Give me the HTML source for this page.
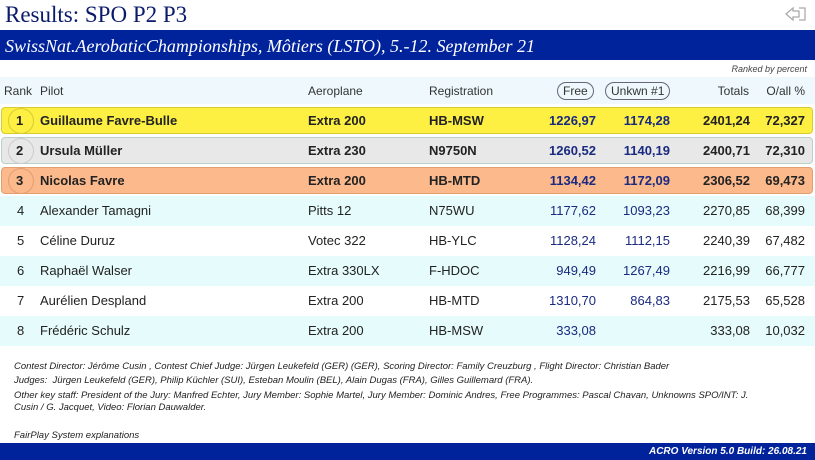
<!DOCTYPE html>
<html><head><meta charset="utf-8"><style>
*{margin:0;padding:0;box-sizing:border-box}
body{width:815px;height:460px;background:#fff;font-family:"Liberation Sans",Arial,sans-serif;position:relative;overflow:hidden;color:#222}
.a{position:absolute;white-space:nowrap}
.title{left:5px;top:2px;font-family:"Liberation Serif",serif;font-size:23px;color:#0a1a6a}
.bar{left:0;top:30px;width:815px;height:30px;background:#00239c}
.sub{left:5px;top:36px;font-family:"Liberation Serif",serif;font-style:italic;font-size:18px;color:#fff}
.row{position:absolute;left:0;width:815px;height:30px;font-size:13px}
.row span{position:absolute;top:7px;white-space:nowrap}
.n{color:#1a2a80}
.hl{position:absolute;left:1px;width:812px;height:27px;border-radius:4px}
.circ{position:absolute;left:8px;width:26px;height:26px;border-radius:50%}
.b span{font-weight:bold}
.foot{left:14px;font-size:9.5px;font-style:italic;color:#222}
.pill{border:1px solid #667;border-radius:9px;padding:1px 5px;}
</style></head><body>
<div class="a title">Results: SPO P2 P3</div>
<svg class="a" style="left:785px;top:6px" width="22" height="16"><path d="M1 8 L8 2 L8 5 L14 5 L14 11 L8 11 L8 14 Z M14 2 L20 2 L20 14 L14 14" fill="none" stroke="#aaa" stroke-width="1.3"/></svg>
<div class="a bar"></div>
<div class="a sub">SwissNat.AerobaticChampionships, Môtiers (LSTO), 5.-12. September 21</div>
<div class="a" style="right:8px;top:64px;font-size:9px;font-style:italic;color:#444">Ranked by percent</div>
<div class="row" style="top:77px;background:#eef8fd;height:27px;font-size:12px;color:#333">
<span style="left:4px">Rank</span><span style="left:40px">Pilot</span><span style="left:308px">Aeroplane</span><span style="left:429px">Registration</span>
<span style="left:557px;top:5px" class="pill">Free</span><span style="left:605px;top:5px" class="pill">Unkwn #1</span>
<span style="right:66px">Totals</span><span style="right:10px">O/all %</span></div>

<div class="hl" style="top:107px;background:#fdf043;border:1px solid #d8cc30"></div>
<div class="circ" style="top:108px;background:#fdf043;border:1px solid #d8cc30"></div>
<div class="row b" style="top:106px"><span style="left:16px">1</span><span style="left:40px">Guillaume Favre-Bulle</span><span style="left:308px">Extra 200</span><span style="left:429px">HB-MSW</span><span class="n" style="right:219px">1226,97</span><span class="n" style="right:145px">1174,28</span><span style="right:65px">2401,24</span><span style="right:10px">72,327</span></div>

<div class="hl" style="top:137px;background:#e8e8e8;border:1px solid #b8d0c8"></div>
<div class="circ" style="top:138px;background:#e8e8e8;border:1px solid #ccc"></div>
<div class="row b" style="top:136px"><span style="left:16px">2</span><span style="left:40px">Ursula Müller</span><span style="left:308px">Extra 230</span><span style="left:429px">N9750N</span><span class="n" style="right:219px">1260,52</span><span class="n" style="right:145px">1140,19</span><span style="right:65px">2400,71</span><span style="right:10px">72,310</span></div>

<div class="hl" style="top:167px;background:#fbb98c;border:1px solid #e0a070"></div>
<div class="circ" style="top:168px;background:#fbb98c;border:1px solid #e0a070"></div>
<div class="row b" style="top:166px"><span style="left:16px">3</span><span style="left:40px">Nicolas Favre</span><span style="left:308px">Extra 200</span><span style="left:429px">HB-MTD</span><span class="n" style="right:219px">1134,42</span><span class="n" style="right:145px">1172,09</span><span style="right:65px">2306,52</span><span style="right:10px">69,473</span></div>

<div class="row" style="top:196px;background:#e6fbfb"><span style="left:17px">4</span><span style="left:40px">Alexander Tamagni</span><span style="left:308px">Pitts 12</span><span style="left:429px">N75WU</span><span class="n" style="right:219px">1177,62</span><span class="n" style="right:145px">1093,23</span><span style="right:65px">2270,85</span><span style="right:10px">68,399</span></div>
<div class="row" style="top:226px"><span style="left:17px">5</span><span style="left:40px">Céline Duruz</span><span style="left:308px">Votec 322</span><span style="left:429px">HB-YLC</span><span class="n" style="right:219px">1128,24</span><span class="n" style="right:145px">1112,15</span><span style="right:65px">2240,39</span><span style="right:10px">67,482</span></div>
<div class="row" style="top:256px;background:#e6fbfb"><span style="left:17px">6</span><span style="left:40px">Raphaël Walser</span><span style="left:308px">Extra 330LX</span><span style="left:429px">F-HDOC</span><span class="n" style="right:219px">949,49</span><span class="n" style="right:145px">1267,49</span><span style="right:65px">2216,99</span><span style="right:10px">66,777</span></div>
<div class="row" style="top:286px"><span style="left:17px">7</span><span style="left:40px">Aurélien Despland</span><span style="left:308px">Extra 200</span><span style="left:429px">HB-MTD</span><span class="n" style="right:219px">1310,70</span><span class="n" style="right:145px">864,83</span><span style="right:65px">2175,53</span><span style="right:10px">65,528</span></div>
<div class="row" style="top:316px;background:#e6fbfb"><span style="left:17px">8</span><span style="left:40px">Frédéric Schulz</span><span style="left:308px">Extra 200</span><span style="left:429px">HB-MSW</span><span class="n" style="right:219px">333,08</span><span style="right:65px">333,08</span><span style="right:10px">10,032</span></div>

<div class="a foot" style="top:361px">Contest Director: Jérôme Cusin , Contest Chief Judge: Jürgen Leukefeld (GER) (GER), Scoring Director: Family Creuzburg , Flight Director: Christian Bader</div>
<div class="a foot" style="top:375px">Judges:&nbsp; Jürgen Leukefeld (GER), Philip Küchler (SUI), Esteban Moulin (BEL), Alain Dugas (FRA), Gilles Guillemard (FRA).</div>
<div class="a foot" style="top:390px">Other key staff: President of the Jury: Manfred Echter, Jury Member: Sophie Martel, Jury Member: Dominic Andres, Free Programmes: Pascal Chavan, Unknowns SPO/INT: J.</div>
<div class="a foot" style="top:402px">Cusin / G. Jacquet, Video: Florian Dauwalder.</div>
<div class="a foot" style="top:430px">FairPlay System explanations</div>
<div class="a" style="left:0;top:443px;width:815px;height:17px;background:#00239c"></div>
<div class="a" style="right:8px;top:446px;font-size:10px;font-style:italic;font-weight:bold;color:#fff">ACRO Version 5.0 Build: 26.08.21</div>
</body></html>
